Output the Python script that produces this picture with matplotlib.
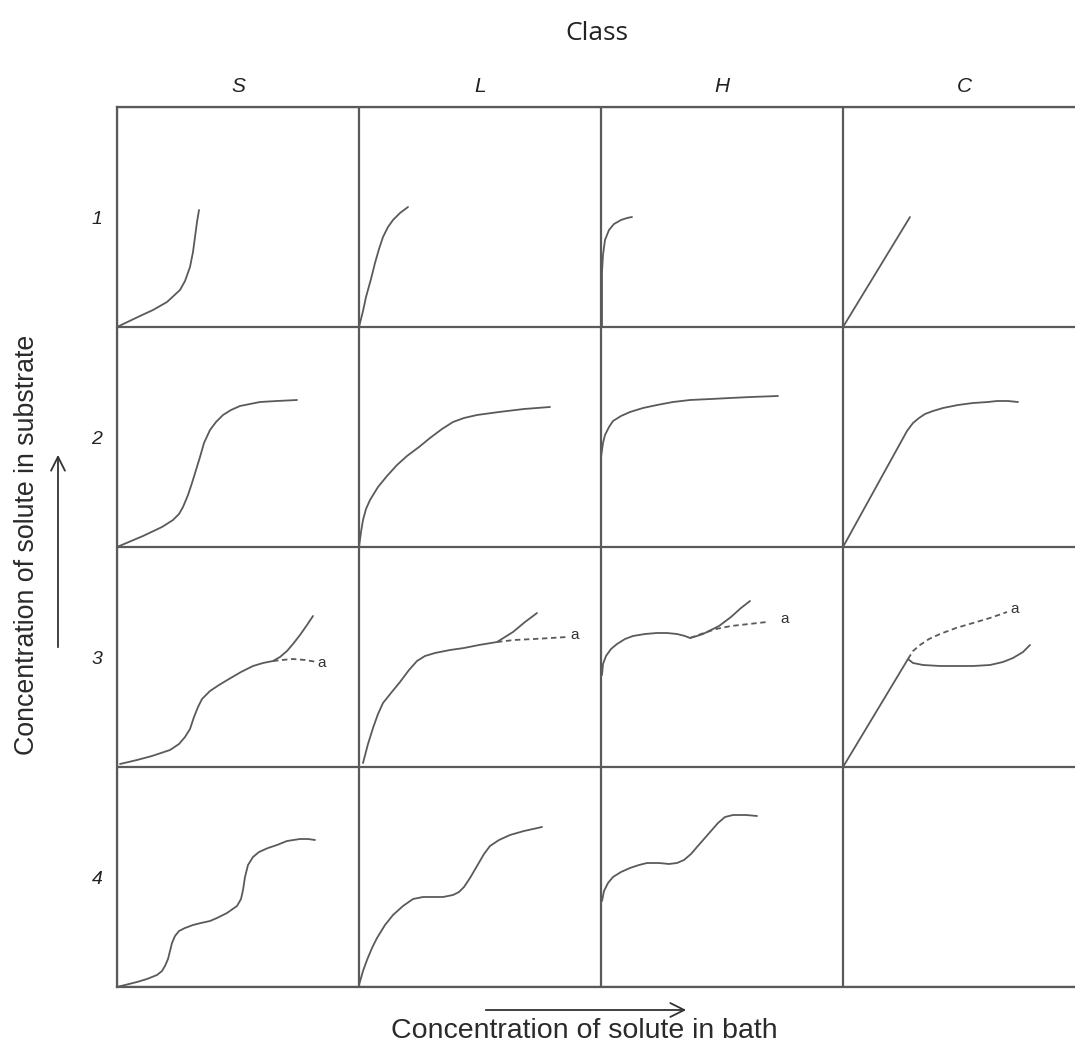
import matplotlib.pyplot as plt

W, H = 1075, 1049
CELL_W, CELL_H = 242, 220

classes = ["S", "L", "H", "C"]
subgroups = ["1", "2", "3", "4"]

# isotherm shapes, (x, y) in pixels from the lower-left corner of each cell
S1 = [(0, 0), (23, 11), (36, 17), (50, 25), (63, 37), (68, 46), (73, 60), (76, 75), (78, 90), (80, 105), (82, 117)]
L1 = [(0, 0), (4, 16), (7, 30), (12, 48), (16, 64), (20, 78), (24, 90), (29, 100), (34, 107), (41, 114), (49, 120)]
H1 = [(1, 0), (1, 30), (1, 55), (2, 72), (4, 87), (8, 97), (13, 103), (20, 107), (26, 109), (31, 110)]
C1 = [(0, 0), (67, 110)]

S2 = [(0, 0), (26, 11), (45, 20), (56, 27), (62, 33), (66, 40), (71, 52), (75, 64), (79, 77), (83, 90), (87, 104), (93, 117), (99, 125), (106, 132), (114, 137), (123, 141), (133, 143), (143, 145), (160, 146), (180, 147)]
L2 = [(0, 0), (2, 15), (4, 27), (7, 38), (11, 47), (19, 60), (28, 71), (38, 82), (48, 91), (60, 100), (71, 109), (83, 118), (94, 125), (105, 129), (118, 132), (140, 135), (165, 138), (191, 140)]
H2 = [(0, 90), (2, 104), (4, 112), (8, 120), (12, 126), (20, 131), (29, 135), (42, 139), (56, 142), (72, 145), (89, 147), (110, 148), (129, 149), (150, 150), (177, 151)]
C2 = [(0, 0), (64, 116), (70, 124), (76, 129), (82, 133), (90, 136), (100, 139), (115, 142), (130, 144), (145, 145), (154, 146), (165, 146), (175, 145)]

S3 = [(3, 3), (20, 7), (35, 11), (53, 17), (62, 23), (68, 30), (73, 38), (77, 50), (81, 60), (85, 68), (93, 76), (102, 82), (112, 88), (124, 95), (136, 101), (146, 104), (156, 106), (163, 110), (170, 116), (176, 123), (183, 132), (190, 142), (196, 151)]
S3a = [(156, 106), (165, 107), (176, 108), (188, 107), (200, 105)]
L3 = [(4, 4), (9, 23), (14, 39), (19, 53), (24, 64), (32, 74), (41, 85), (50, 97), (58, 106), (66, 111), (76, 114), (91, 117), (105, 119), (120, 122), (138, 125), (146, 130), (154, 135), (166, 145), (178, 154)]
L3a = [(138, 125), (155, 127), (175, 128), (192, 129), (208, 130)]
H3 = [(1, 92), (2, 103), (5, 111), (10, 118), (16, 123), (24, 128), (32, 131), (44, 133), (56, 134), (66, 134), (76, 133), (84, 131), (89, 129), (96, 131), (102, 133), (110, 137), (118, 141), (130, 150), (140, 159), (149, 166)]
H3a = [(89, 129), (100, 133), (115, 138), (130, 141), (148, 143), (166, 145)]
C3 = [(0, 0), (65, 108), (70, 104), (80, 102), (97, 101), (114, 101), (130, 101), (147, 102), (160, 105), (170, 109), (180, 115), (187, 122)]
C3a = [(65, 108), (70, 116), (77, 122), (86, 128), (97, 133), (113, 139), (130, 144), (147, 149), (164, 155)]

S4 = [(0, 0), (12, 3), (20, 5), (30, 8), (40, 12), (45, 16), (48, 21), (51, 28), (53, 36), (55, 44), (58, 51), (62, 56), (68, 59), (76, 62), (84, 64), (93, 66), (100, 69), (110, 74), (120, 81), (124, 88), (126, 97), (128, 110), (131, 122), (136, 130), (142, 135), (151, 139), (160, 142), (170, 146), (183, 148), (191, 148), (198, 147)]
L4 = [(0, 2), (4, 16), (8, 27), (13, 39), (18, 49), (26, 62), (34, 72), (44, 81), (54, 88), (64, 90), (74, 90), (84, 90), (94, 92), (100, 95), (105, 100), (111, 109), (118, 121), (125, 133), (131, 141), (140, 147), (151, 152), (165, 156), (183, 160)]
H4 = [(1, 86), (3, 96), (7, 104), (12, 110), (20, 115), (29, 119), (38, 122), (46, 124), (58, 124), (68, 123), (76, 124), (83, 127), (90, 133), (96, 140), (103, 148), (110, 156), (117, 164), (124, 170), (132, 172), (145, 172), (156, 171)]

# curve name -> (points, column, row from top, dashed)
curves = {
    "S1": (S1, 0, 0, False), "L1": (L1, 1, 0, False), "H1": (H1, 2, 0, False), "C1": (C1, 3, 0, False),
    "S2": (S2, 0, 1, False), "L2": (L2, 1, 1, False), "H2": (H2, 2, 1, False), "C2": (C2, 3, 1, False),
    "S3": (S3, 0, 2, False), "L3": (L3, 1, 2, False), "H3": (H3, 2, 2, False), "C3": (C3, 3, 2, False),
    "S3a": (S3a, 0, 2, True), "L3a": (L3a, 1, 2, True), "H3a": (H3a, 2, 2, True), "C3a": (C3a, 3, 2, True),
    "S4": (S4, 0, 3, False), "L4": (L4, 1, 3, False), "H4": (H4, 2, 3, False),
}

# position of the "a" mark after each dashed branch
a_labels = [((205, 104), 0, 2), ((216, 132), 1, 2), ((184, 148), 2, 2), ((172, 158), 3, 2)]

plt.rcParams['font.family'] = ['Liberation Sans', 'DejaVu Sans']
LINE = '#5a5a5a'

fig = plt.figure(figsize=(W / 100, H / 100), dpi=100)
ax = fig.add_axes([117 / W, (H - 987) / H, 4 * CELL_W / W, 4 * CELL_H / H])
ax.set_xlim(0, 4 * CELL_W)
ax.set_ylim(0, 4 * CELL_H)
ax.set_xticks([CELL_W * i for i in range(5)])
ax.set_yticks([CELL_H * i for i in range(5)])
ax.tick_params(length=0, labelbottom=False, labelleft=False)
ax.grid(True, color=LINE, linewidth=1.6)
for sp in ax.spines.values():
    sp.set_color(LINE)
    sp.set_linewidth(1.6)

for name, (pts, col, row, dashed) in curves.items():
    x0 = col * CELL_W
    y0 = (3 - row) * CELL_H
    xs = [x0 + p[0] for p in pts]
    ys = [y0 + p[1] for p in pts]
    ax.plot(xs, ys, color=LINE, linewidth=1.3, linestyle=(0, (3, 2)) if dashed else '-',
            solid_capstyle='round')

for (px, py), col, row in a_labels:
    ax.text(col * CELL_W + px, (3 - row) * CELL_H + py, "a", fontsize=11, color='#333333',
            ha='center', va='center')


def fxy(x, y):
    return x / W, 1 - y / H


fig.text(*fxy(597, 33), "Class", fontsize=19, ha='center', va='center', color='#222222',
         family=['Open Sans', 'DejaVu Sans'])
for i, c in enumerate(classes):
    fig.text(*fxy(117 + CELL_W * (i + 0.5), 87), c, fontsize=15, style='italic',
             ha='center', va='center', color='#222222')
for i, s in enumerate(subgroups):
    fig.text(*fxy(97, 106 + CELL_H * (i + 0.5) + 3), s, fontsize=14, style='italic',
             ha='center', va='center', color='#222222')

fig.text(*fxy(27, 545), "Concentration of solute in substrate", fontsize=19.3, rotation=90,
         ha='center', va='center', color='#2a2a2a')
fig.text(*fxy(584, 1031), "Concentration of solute in bath", fontsize=20.5,
         ha='center', va='center', color='#2a2a2a')

arrow_style = '->,head_length=10,head_width=5'
fig.add_artist(plt.matplotlib.patches.FancyArrowPatch(
    fxy(58, 650), fxy(58, 452), transform=fig.transFigure, arrowstyle=arrow_style,
    color='#333333', linewidth=1.3))
fig.add_artist(plt.matplotlib.patches.FancyArrowPatch(
    fxy(483, 1010), fxy(689, 1010), transform=fig.transFigure, arrowstyle=arrow_style,
    color='#333333', linewidth=1.3))

fig.savefig("out.png", dpi=100)
